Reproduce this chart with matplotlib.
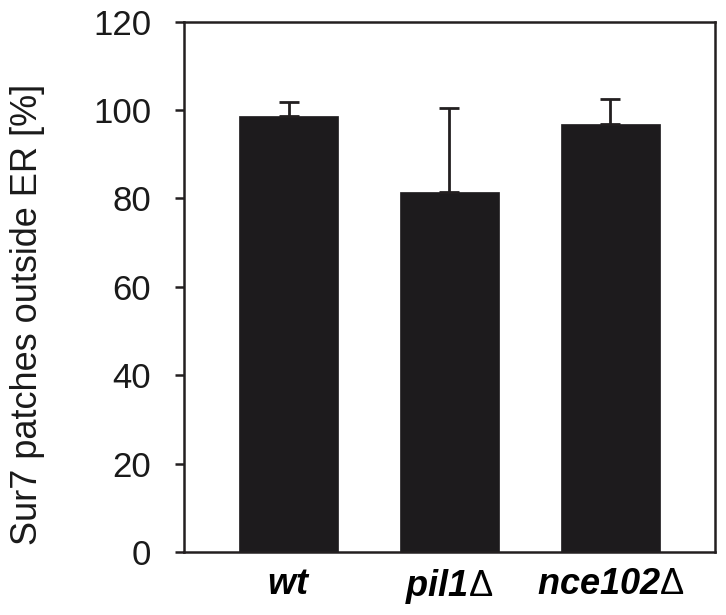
import matplotlib
matplotlib.use("Agg")
import matplotlib.pyplot as plt

# strains and measured values (% of Sur7 patches outside ER)
strains = ["wt", "pil1", "nce102"]
deleted = [False, True, True]
values = [98.7, 81.5, 96.8]
errors = [3.2, 19.0, 5.8]
yticks = [0, 20, 40, 60, 80, 100, 120]

plt.rcParams["font.family"] = ["Liberation Sans", "DejaVu Sans"]
plt.rcParams["mathtext.fontset"] = "custom"
plt.rcParams["mathtext.rm"] = "Liberation Sans"
plt.rcParams["mathtext.bfit"] = "Liberation Sans:italic:bold"

dark = "#1d1b1d"
axcol = "#231f20"

fig = plt.figure(figsize=(7.26, 6.15), dpi=100)
ax = fig.add_axes([0.2534, 0.1024, 0.7314, 0.8623])

x = list(range(len(strains)))
ax.bar(x, values, width=0.615, color=dark, edgecolor=dark, linewidth=0.5, zorder=2)
ax.errorbar(x, values, yerr=[[0] * len(errors), errors], fmt="none",
            ecolor=axcol, elinewidth=2, capsize=7.2, capthick=2, zorder=3)

labels = []
for name, d in zip(strains, deleted):
    if d:
        labels.append(r"$\mathbfit{%s}\Delta$" % name)
    else:
        labels.append(r"$\mathbfit{%s}$" % name)

ax.set_xlim(-0.65, 2.65)
ax.set_ylim(0, 120)
ax.set_xticks(x)
ax.set_xticklabels(labels, fontsize=26)
ax.set_yticks(yticks)
ax.tick_params(axis="x", length=0, pad=11)
ax.tick_params(axis="y", direction="out", length=6.5, width=1.8, pad=17,
               labelsize=25, color=axcol, labelcolor="#1a1a1a")

for s in ax.spines.values():
    s.set_linewidth(1.8)
    s.set_color(axcol)

ax.set_ylabel("Sur7 patches outside ER [%]", fontsize=26, color="#1a1a1a")
ax.yaxis.set_label_coords(-0.262, 0.449)

fig.savefig("out.png", dpi=100)
